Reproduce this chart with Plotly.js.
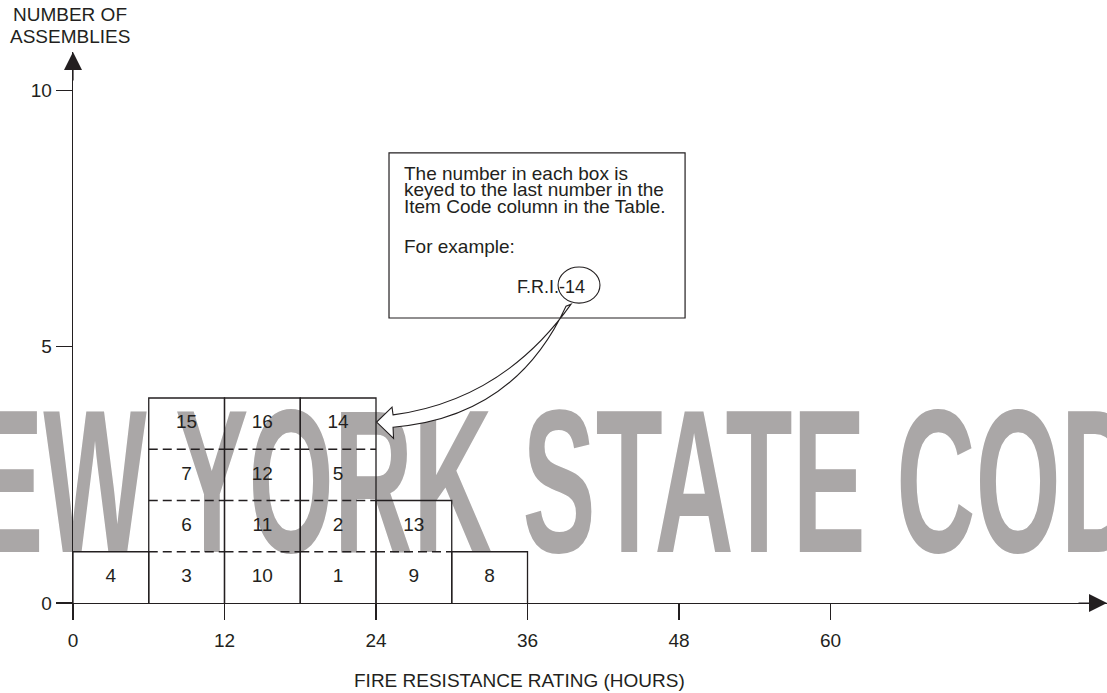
<!DOCTYPE html>
<html>
<head>
<meta charset="utf-8">
<script src="https://cdn.plot.ly/plotly-3.0.1.min.js"></script>
<style>html,body{margin:0;padding:0;background:#fff;}#chart{width:1107px;height:693px;}</style>
</head>
<body>
<div id="chart"></div>
<script>
// ---- data ----
const ratingStart = [0, 6, 12, 18, 24, 30];
const ratingEnd = [6, 12, 18, 24, 30, 36];
const itemCodes = [[4], [3, 6, 7, 15], [10, 11, 12, 16], [1, 2, 5, 14], [9, 13], [8]];
const xTickVals = [0, 12, 24, 36, 48, 60];
const yTickVals = [0, 5, 10];
const noteLines = ['The number in each box is', 'keyed to the last number in the', 'Item Code column in the Table.'];
const noteExample = 'For example:';
const noteCode = 'F.R.I.-14';
const watermarkText = 'NEW YORK STATE CODE';

const INK = '#231f20';
const FONT = 'Liberation Sans, Arial, sans-serif';

// cell labels
const lx = [], ly = [], lt = [];
// outlines
const sx = [], sy = [], dx = [], dy = [];
ratingStart.forEach((s, c) => {
  const e = ratingEnd[c];
  const codes = itemCodes[c];
  const n = codes.length;
  codes.forEach((code, r) => { lx.push((s + e) / 2); ly.push(r + 0.5); lt.push(String(code)); });
  sx.push(s, s, e, e, null); sy.push(0, n, n, 0, null);
  for (let k = 1; k < n; k++) { dx.push(s, e, null); dy.push(k, k, null); }
});

const traces = [
  { type: 'scatter', mode: 'text', x: [37.94], y: [1.99], text: [watermarkText],
    textfont: { family: FONT, size: 205, color: '#aaa7a7', weight: 'bold' },
    cliponaxis: false, hoverinfo: 'skip', showlegend: false },
  { type: 'scatter', mode: 'lines', x: sx, y: sy, line: { color: INK, width: 1.3 },
    cliponaxis: false, hoverinfo: 'skip', showlegend: false },
  { type: 'scatter', mode: 'lines', x: dx, y: dy, line: { color: INK, width: 1.3, dash: '9px,5px' },
    cliponaxis: false, hoverinfo: 'skip', showlegend: false },
  { type: 'scatter', mode: 'text', x: lx, y: ly, text: lt, textposition: 'middle center',
    textfont: { family: FONT, size: 19, color: INK }, cliponaxis: false, hoverinfo: 'skip', showlegend: false }
];

const f19 = { family: FONT, size: 19, color: INK };
const annotations = [
  { xref: 'paper', yref: 'paper', x: -0.003, y: 1.068, xanchor: 'center', yanchor: 'middle', text: 'NUMBER OF', showarrow: false, font: f19 },
  { xref: 'paper', yref: 'paper', x: -0.003, y: 1.029, xanchor: 'center', yanchor: 'middle', text: 'ASSEMBLIES', showarrow: false, font: f19 },
  { xref: 'paper', yref: 'paper', x: 0.4323, y: -0.1407, xanchor: 'center', yanchor: 'middle', text: 'FIRE RESISTANCE RATING (HOURS)', showarrow: false, font: f19 },
  { xref: 'x', yref: 'y', x: 26.06, y: 8.37, xanchor: 'left', text: noteLines[0], showarrow: false, font: f19 },
  { xref: 'x', yref: 'y', x: 26.06, y: 8.06, xanchor: 'left', text: noteLines[1], showarrow: false, font: f19 },
  { xref: 'x', yref: 'y', x: 26.06, y: 7.73, xanchor: 'left', text: noteLines[2], showarrow: false, font: f19 },
  { xref: 'x', yref: 'y', x: 26.06, y: 6.95, xanchor: 'left', text: noteExample, showarrow: false, font: f19 },
  { xref: 'x', yref: 'y', x: 35.0, y: 6.16, xanchor: 'left', text: noteCode, showarrow: false, font: { family: FONT, size: 18, color: INK } },
  // axis arrowheads
  { xref: 'x', yref: 'y', x: 0, y: 10.75, ax: 0, ay: 30, text: '', showarrow: true, arrowhead: 2, arrowsize: 3, arrowwidth: 1.2, arrowcolor: INK },
  { xref: 'x', yref: 'y', x: 81.9, y: 0, ax: -30, ay: 0, text: '', showarrow: true, arrowhead: 2, arrowsize: 3, arrowwidth: 1.2, arrowcolor: INK }
];

const shapes = [
  { type: 'rect', xref: 'x', yref: 'y', x0: 25.03, x1: 48.48, y0: 5.56, y1: 8.78, line: { color: INK, width: 1.2 } },
  { type: 'circle', xref: 'x', yref: 'y', x0: 38.42, x1: 41.74, y0: 5.85, y1: 6.555, line: { color: INK, width: 1.1 } },
  { type: 'path', xref: 'x', yref: 'y',
    path: 'M 39.45,5.83 Q 34.06,3.96 25.35,3.67 L 25.27,3.82 L 24.05,3.53 L 25.39,3.21 L 25.35,3.43 Q 34.97,3.62 39.05,5.79 Z',
    fillcolor: '#ffffff', line: { color: INK, width: 1.1 }, layer: 'above' }
];

const axisCommon = {
  showgrid: false, zeroline: false, showline: true, linecolor: INK, linewidth: 1.3,
  ticks: 'outside', ticklen: 16, tickwidth: 1.3, tickcolor: INK,
  tickfont: { family: FONT, size: 19, color: INK }, fixedrange: true
};

const layout = {
  width: 1107, height: 693,
  margin: { l: 73, r: 0, t: 52, b: 90 },
  paper_bgcolor: '#ffffff', plot_bgcolor: '#ffffff',
  showlegend: false,
  xaxis: Object.assign({}, axisCommon, { range: [0, 81.9], tickvals: xTickVals, ticktext: xTickVals.map(String), ticklabelstandoff: 4 }),
  yaxis: Object.assign({}, axisCommon, { range: [0, 10.75], tickvals: yTickVals, ticktext: yTickVals.map(String) }),
  annotations: annotations,
  shapes: shapes
};

Plotly.newPlot('chart', traces, layout, { displayModeBar: false, staticPlot: true }).then(gd => {
  const t = gd.querySelector('.scatterlayer .trace text');
  if (t) {
    const x = parseFloat(t.getAttribute('x'));
    t.setAttribute('transform', 'translate(' + x + ',0) scale(0.535,1) translate(' + (-x) + ',0)');
  }
});
</script>
</body>
</html>
